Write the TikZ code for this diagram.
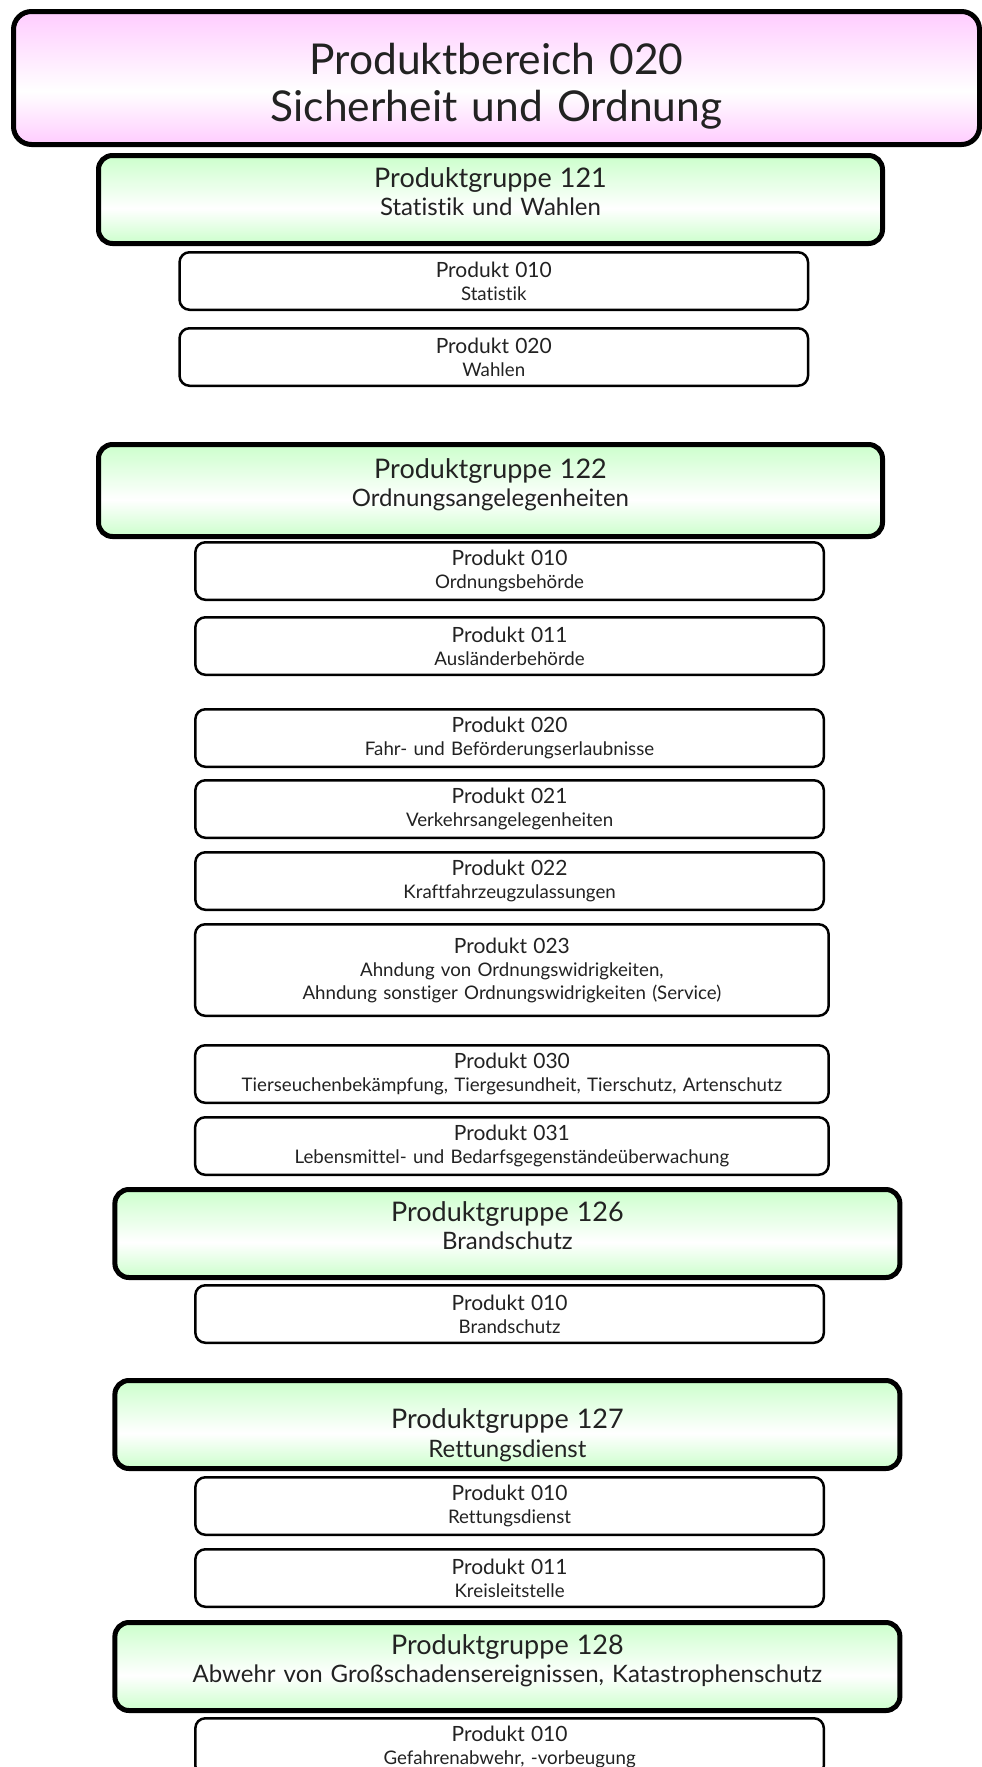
\documentclass[tikz,border=0pt]{standalone}
\usepackage{fontspec}
\setmainfont{Lato}[Ligatures=CommonOff]
\usetikzlibrary{positioning}
\definecolor{bereichrosa}{HTML}{FFCCFF}
\definecolor{gruppegruen}{HTML}{CCFFCC}
\definecolor{schrift}{HTML}{222222}
\pgfdeclareverticalshading{bereichshade}{100bp}{color(0bp)=(bereichrosa); color(25bp)=(bereichrosa);
  color(45bp)=(white); color(75bp)=(bereichrosa); color(100bp)=(bereichrosa)}
\pgfdeclareverticalshading{gruppeshade}{100bp}{color(0bp)=(gruppegruen); color(25bp)=(gruppegruen);
  color(45bp)=(white); color(75bp)=(gruppegruen); color(100bp)=(gruppegruen)}
\newcommand{\gruppe}[2]{{\fontsize{27}{28.5}\selectfont #1}\\#2\rule[-16pt]{0pt}{1pt}}
\newcommand{\produkt}[2]{{\fontsize{21}{23}\selectfont #1}\\#2}

\begin{document}
\begin{tikzpicture}[x=1pt,y=-1pt,
    every node/.style={text=schrift,align=center,inner sep=0pt},
    bereichbox/.style={draw,line width=5pt,outer sep=2.5pt,rounded corners=18pt,shading=bereichshade,
        minimum width=966pt,minimum height=133pt,text width=900pt,font=\fontsize{42.5}{47}\selectfont},
    gruppebox/.style={draw,line width=5pt,outer sep=2.5pt,rounded corners=14pt,shading=gruppeshade,
        minimum width=784pt,minimum height=88pt,text width=760pt,font=\fontsize{24}{28.5}\selectfont},
    produktbox/.style={draw,line width=2.5pt,outer sep=1.25pt,rounded corners=10pt,
        minimum width=628.5pt,minimum height=57.5pt,text width=620pt,font=\fontsize{18.7}{23}\selectfont}]
    \useasboundingbox (0,0) rectangle (982,1767);
    \clip (0,0) rectangle (982,1767);
    % Produktbereich
    \node[bereichbox] (pb020) at (496.5,78) {\rule{0pt}{47pt}Produktbereich 020\\Sicherheit und Ordnung};
    % Produktgruppe 121
    \node[gruppebox,below=6pt of pb020,xshift=-6pt] (pg121) {\gruppe{Produktgruppe 121}{Statistik und Wahlen}};
    \node[produktbox,below=5pt of pg121,xshift=3.3pt] (p121a) {\produkt{Produkt 010}{Statistik}};
    \node[produktbox,below=16pt of p121a] (p121b) {\produkt{Produkt 020}{Wahlen}};
    % Produktgruppe 122
    \node[gruppebox,minimum height=92pt,below=55pt of p121b,xshift=-3.3pt] (pg122)
        {\gruppe{Produktgruppe 122}{Ordnungsangelegenheiten}};
    \node[produktbox,below=2pt of pg122,xshift=19.1pt] (p122a) {\produkt{Produkt 010}{Ordnungsbehörde}};
    \node[produktbox,below=15pt of p122a] (p122b) {\produkt{Produkt 011}{Ausländerbehörde}};
    \node[produktbox,below=32pt of p122b] (p122c) {\produkt{Produkt 020}{Fahr- und Beförderungserlaubnisse}};
    \node[produktbox,below=11pt of p122c] (p122d) {\produkt{Produkt 021}{Verkehrsangelegenheiten}};
    \node[produktbox,below=12pt of p122d] (p122e) {\produkt{Produkt 022}{Kraftfahrzeugzulassungen}};
    \node[produktbox,minimum width=633.5pt,minimum height=91.5pt,below=12pt of p122e,xshift=2.3pt] (p122f)
        {\produkt{Produkt 023}{Ahndung von Ordnungswidrigkeiten,\\Ahndung sonstiger Ordnungswidrigkeiten (Service)}};
    \node[produktbox,minimum width=633.5pt,below=27pt of p122f] (p122g)
        {\produkt{Produkt 030}{Tierseuchenbekämpfung, Tiergesundheit, Tierschutz, Artenschutz}};
    \node[produktbox,minimum width=633.5pt,below=12pt of p122g] (p122h)
        {\produkt{Produkt 031}{Lebensmittel- und Bedarfsgegenständeüberwachung}};
    % Produktgruppe 126
    \node[gruppebox,minimum width=785pt,below=11pt of p122h,xshift=-4.5pt] (pg126) {\gruppe{Produktgruppe 126}{Brandschutz}};
    \node[produktbox,below=4pt of pg126,xshift=2.2pt] (p126a) {\produkt{Produkt 010}{Brandschutz}};
    % Produktgruppe 127 (Text etwas tiefer)
    \node[gruppebox,minimum width=785pt,below=34pt of p126a,xshift=-2.2pt] (pg127)
        {{\fontsize{27}{28.5}\selectfont\rule{0pt}{41pt}Produktgruppe 127}\\Rettungsdienst};
    \node[produktbox,below=5pt of pg127,xshift=2.2pt] (p127a) {\produkt{Produkt 010}{Rettungsdienst}};
    \node[produktbox,below=12pt of p127a] (p127b) {\produkt{Produkt 011}{Kreisleitstelle}};
    % Produktgruppe 128
    \node[gruppebox,minimum width=785pt,below=12pt of p127b,xshift=-2.2pt] (pg128)
        {\gruppe{Produktgruppe 128}{Abwehr von Großschadensereignissen, Katastrophenschutz}};
    \node[produktbox,below=4pt of pg128,xshift=2.2pt] (p128a) {\produkt{Produkt 010}{Gefahrenabwehr, -vorbeugung}};
\end{tikzpicture}
\end{document}
